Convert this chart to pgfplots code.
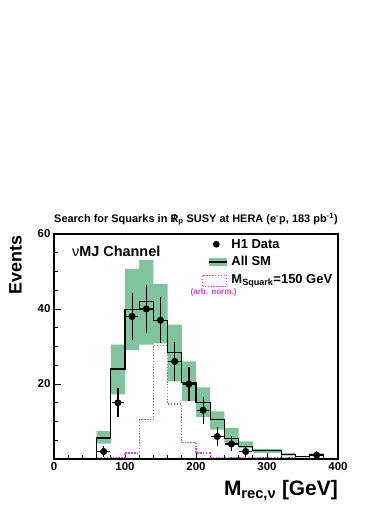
\documentclass[border=0pt]{standalone}
\usepackage{fontspec}
\setmainfont{Liberation Sans}
\usepackage{pgfplots}
\pgfplotsset{compat=1.18}
\usepgfplotslibrary{fillbetween}
\definecolor{smgreen}{RGB}{128,196,158}
\definecolor{sigmag}{RGB}{215,60,220}
\begin{document}
\begin{tikzpicture}
\path (0,0) rectangle (392bp,508bp);
\begin{axis}[
 at={(54bp,49bp)}, anchor=south west,
 scale only axis, width=284bp, height=225bp,
 xmin=0,xmax=400,ymin=0,ymax=60,
 xtick={0,100,...,400}, ytick={20,40,60},
 minor xtick={20,40,60,80,120,140,160,180,220,240,260,280,320,340,360,380},
 minor ytick={5,10,15,25,30,35,45,50,55},
 tick align=inside, xtick pos=bottom, ytick pos=left,
 major tick length=7bp, minor tick length=4bp,
 axis line style={line width=1.1bp},
 every tick/.style={black, line width=0.8bp},
 ticklabel style={font=\bfseries\fontsize{11.5}{12}\selectfont},
 /pgf/number format/assume math mode=true,
 title={Search for Squarks in \ooalign{R\cr\hidewidth/\hidewidth}\textsubscript{p} SUSY at HERA (e\textsuperscript{-}p, 183 pb\textsuperscript{-1})},
 title style={at={(rel axis cs:0,1)}, anchor=south west, font=\bfseries\fontsize{11}{12}\selectfont, inner sep=0pt, yshift=2.5bp},
 ylabel={Events},
 ylabel style={at={(rel axis cs:-0.113,0.995)}, anchor=south east, inner sep=0pt, font=\bfseries\fontsize{18}{20}\selectfont},
 xlabel={M\textsubscript{rec,ν} [GeV]},
 xlabel style={at={(rel axis cs:1,0)}, anchor=north east, inner sep=0pt, yshift=-21bp, font=\bfseries\fontsize{21}{23}\selectfont},
 legend style={draw=none, fill=none, inner sep=0pt, at={(rel axis cs:0.521,0.983)}, anchor=north west, font=\bfseries\fontsize{13}{14}\selectfont, row sep=5.2bp, nodes={inner sep=0pt, text height=10bp, text depth=2.5bp}, /tikz/every odd column/.append style={column sep=4bp}},
 legend cell align=left,
]
\addlegendimage{draw=none, fill=none, legend image code/.code={\path[draw=none,fill=none] (0bp,-5.5bp) rectangle (24bp,5.5bp); \path[draw=none,fill=black] (13.5bp,0bp) circle (3.4bp);}}
\addlegendentry{H1 Data}
\addlegendimage{draw=none, fill=none, legend image code/.code={\path[draw=none,fill=none] (0bp,-5.5bp) rectangle (24bp,5.5bp); \path[draw=none,fill=smgreen] (6bp,-4.3bp) rectangle (24bp,4.3bp); \path[draw=black,line width=1.3bp] (6bp,0bp)--(24bp,0bp);}}
\addlegendentry{All SM}
\addlegendimage{draw=none, fill=none, legend image code/.code={\path[draw=sigmag,fill=none,dash pattern=on 1.4bp off 1.5bp,line width=1.3bp] (0bp,-6.5bp) rectangle (24bp,4.5bp);}}
\addlegendentry{M\textsubscript{Squark}=150 GeV}

\addplot[name path=bandup, draw=none, const plot, forget plot] coordinates {(60,7.4)(80,30.5)(100,50.7)(120,53.1)(140,46.7)(160,35.8)(180,26.0)(200,19.1)(220,12.7)(240,8.3)(260,4.7)(280,2.7)(300,2.6)(320,1.6)(340,0.8)(360,1.5)(380,1.5)};
\addplot[name path=bandlo, draw=none, const plot, forget plot] coordinates {(60,4.1)(80,17.2)(100,29.0)(120,30.5)(140,30.8)(160,20.7)(180,15.4)(200,11.2)(220,7.8)(240,4.3)(260,2.9)(280,1.6)(300,1.6)(320,0.9)(340,0.4)(360,0.9)(380,0.9)};
\addplot[smgreen, forget plot] fill between[of=bandup and bandlo];

\addplot[sigmag, dash pattern=on 1.4bp off 1.5bp, line width=1.3bp, const plot, forget plot] coordinates {(60,0)(60,0.4)(80,0.4)(100,1.6)(120,10.5)(140,30.3)(160,14.7)(180,4.4)(200,1.6)(220,0.4)(240,0.4)(260,0.4)(280,0.4)(300,0.4)(320,0.4)(340,0)};

\addplot[black, line width=1.2bp, const plot, forget plot] coordinates {(60,0)(60,5.6)(80,24.0)(100,39.8)(120,42.0)(140,37.0)(160,28.3)(180,20.3)(200,15.1)(220,10.5)(240,5.4)(260,3.3)(280,2.3)(300,2.2)(320,1.3)(340,0.6)(360,1.2)(380,0)};

\addplot[only marks, mark=*, mark size=3.3bp, black, forget plot,
  error bars/.cd, x dir=both, x explicit, y dir=both, y explicit,
  error bar style={line width=1.2bp}, error mark=none]
  coordinates {
  (70,2) +- (9,1.41)
  (90,15) +- (9,3.87)
  (110,38) +- (9,6.16)
  (130,40) +- (9,6.32)
  (150,37) +- (9,6.08)
  (170,26) +- (9,5.10)
  (190,20) +- (9,4.47)
  (210,13) +- (9,3.61)
  (230,6) +- (9,2.45)
  (250,4) +- (9,2.0)
  (270,2) +- (9,1.41)
  (370,1) +- (9,1.0)
  };

\node[anchor=west, inner sep=0pt, font=\fontsize{14.5}{15}\selectfont] at (rel axis cs:0.063,0.922) {ν\textbf{MJ Channel}};
\node[sigmag, inner sep=0pt, font=\bfseries\fontsize{8.2}{9}\selectfont] at (rel axis cs:0.562,0.74) {(arb. norm.)};
\end{axis}
\end{tikzpicture}
\end{document}
